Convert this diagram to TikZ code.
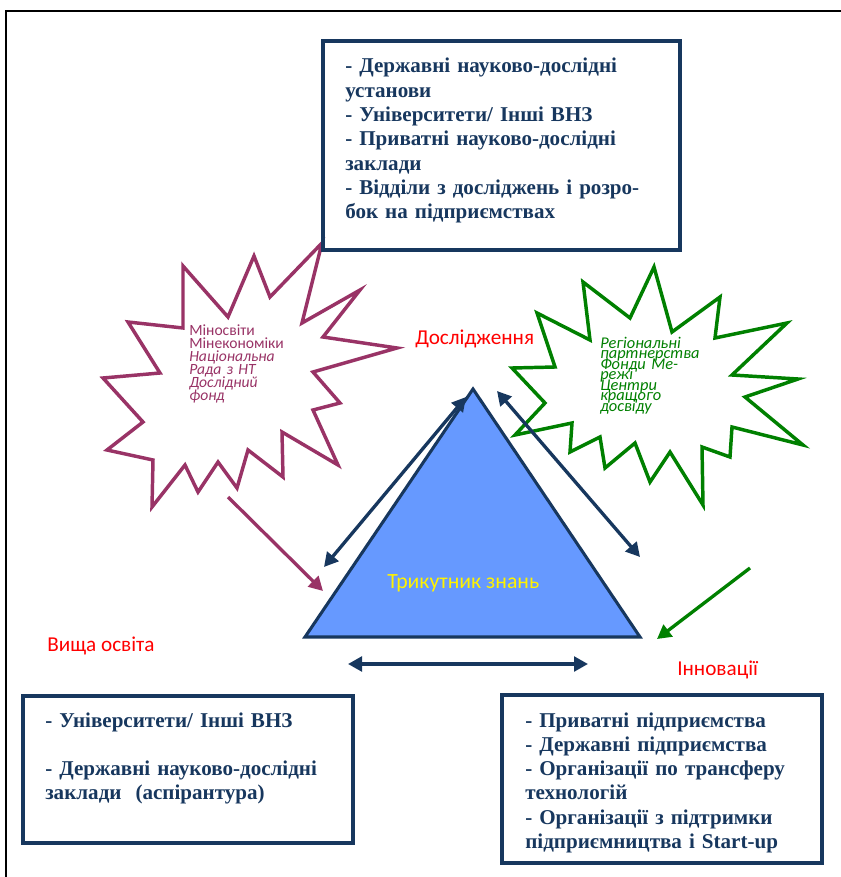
\documentclass[tikz,border=0pt]{standalone}
\usepackage{fontspec}
\setmainfont{Liberation Serif}
\newfontfamily\calibrifont{Carlito}
\usepackage{tikz}
\usetikzlibrary{arrows.meta,positioning,fit}
\definecolor{navy}{HTML}{17375E}
\definecolor{plum}{HTML}{993366}
\definecolor{leaf}{HTML}{008000}
\definecolor{triblue}{HTML}{6699FF}
\newcommand\tightskip{\lineskiplimit-20pt\relax}
\tikzset{
    %Define standard arrow tip
    >={Triangle[length=10.5pt,width=11pt]},
    %Define style for the list boxes
    listbox/.style={
           rectangle,
           draw=navy,
           line width=2.5pt,
           inner sep=0pt},
    listtext/.style={
           anchor=base west,
           inner sep=0pt,
           text width=262pt,
           align=left,
           text=navy,
           font=\bfseries\fontsize{15.8}{18.2}\selectfont},
    %Define style for the red corner labels
    cornerlabel/.style={
           anchor=base west,
           inner sep=0pt,
           text=red,
           font=\calibrifont\fontsize{15.9}{18}\selectfont},
    %Define style for the bursts
    burst/.style={
           line width=2.6pt,
           fill=white,
           line join=miter},
    bursttext/.style={
           anchor=base west,
           inner sep=0pt,
           text width=90pt,
           align=left},
    % Define arrow style
    pil/.style={
           <->,
           draw=navy,
           line width=2.5pt},
    feed/.style={
           ->,
           line width=2.5pt}
}

\begin{document}
\begin{tikzpicture}[x=0.75pt,y=-0.75pt]
\useasboundingbox (0,0) rectangle (841,877);
%page frame
\draw[line width=1.2pt] (6,877) -- (6,11) -- (841,11);
%bursts
\draw[burst,draw=plum] (183,266) -- (228,317) -- (254,256) -- (270,297) -- (322,243)
  -- (302,323) -- (360,290) -- (323,337) -- (397,348) -- (313,372) -- (340,403)
  -- (313,410) -- (338,465) -- (282,432) -- (283,477) -- (248,450) -- (237,488)
  -- (218,462) -- (198,492) -- (185,465) -- (152,507) -- (153,460) -- (107,450)
  -- (143,422) -- (103,378) -- (160,373) -- (128,322) -- (183,328) -- cycle;
\draw[burst,draw=leaf] (654,267) -- (672,332) -- (720,297) -- (715,338) -- (787,323)
  -- (732,375) -- (798,379) -- (745,397) -- (803,445) -- (732,427) -- (730,457)
  -- (702,447) -- (703,505) -- (670,452) -- (650,482) -- (635,443) -- (605,468)
  -- (600,437) -- (570,452) -- (572,423) -- (515,435) -- (545,403) -- (512,368)
  -- (555,367) -- (537,313) -- (590,340) -- (583,282) -- (630,318) -- cycle;
\node[bursttext,text=plum,
  font=\calibrifont\fontsize{11.7}{9.75}\selectfont\tightskip]
  (ministries) at (189,335)
  {Міносвіти\\ Мінекономіки\\ \textit{Національна}\\ \textit{Рада з НТ}\\
   \textit{Дослідний}\\ \textit{фонд}};
\node[bursttext,text=leaf,
  font=\calibrifont\itshape\fontsize{12.3}{7.9}\selectfont\tightskip]
  (networks) at (600,348)
  {Регіональні\\ партнерства\\ Фонди Ме-\\ режі\\ Центри\\ кращого\\ досвіду};
%list boxes
\node[listbox, fit={(323,41) (680,250)}] (research) {};
\node[listtext] (researchlist) at (345,73)
  {- Державні науково-дослідні\\ установи\\ - Університети/ Інші ВНЗ\\
   - Приватні науково-дослідні\\ заклади\\ - Відділи з досліджень і розро-\\
   бок на підприємствах};
\node[listbox, fit={(23,696) (353,843)}] (education) {};
\node[listtext] (educationlist) at (45,727)
  {- Університети/ Інші ВНЗ\\[18.2pt] - Державні науково-дослідні\\
   заклади\ \ (аспірантура)};
\node[listbox, fit={(502,695) (822,863)}] (innovation) {};
\node[listtext] (innovationlist) at (525,727)
  {- Приватні підприємства\\ - Державні підприємства\\
   - Організації по трансферу\\ технологій\\ - Організації з підтримки\\
   підприємництва і Start-up};
%corner labels
\node[cornerlabel] (researchlabel) at (415,344) {Дослідження};
\node[cornerlabel] (educationlabel) at (47,651) {Вища освіта};
\node[cornerlabel] (innovationlabel) at (677,675) {Інновації};
%triangle
\coordinate (apex) at (473,389);
\coordinate (lc) at (305,637);
\coordinate (rc) at (640,637);
\draw[draw=navy, line width=2.3pt, fill=triblue] (apex) -- (lc) -- (rc) -- cycle;
\node[anchor=base west, inner sep=0pt, text={yellow},
  font=\calibrifont\fontsize{16.3}{18}\selectfont] (knowledge) at (387,588)
  {Трикутник знань};
%arrows
\coordinate (l1) at (324,567);
\coordinate (l2) at (466,397);
\coordinate (r1) at (497,391);
\coordinate (r2) at (640,557);
\coordinate (b1) at (348,664);
\coordinate (b2) at (588,664);
\coordinate (p1) at (228,497);
\coordinate (p2) at (323,591);
\coordinate (g1) at (750,568);
\coordinate (g2) at (657,639);
\draw[pil] (l1) -- (l2);
\draw[pil] (r1) -- (r2);
\draw[pil] (b1) -- (b2);
\draw[feed,draw=plum] (p1) -- (p2);
\draw[feed,draw=leaf] (g1) -- (g2);
\end{tikzpicture}
\end{document}
